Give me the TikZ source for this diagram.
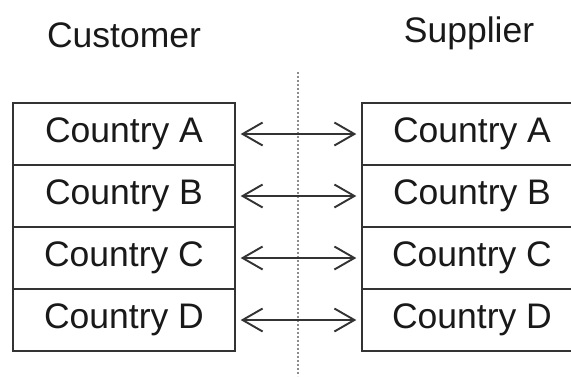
\documentclass[tikz,border=0pt]{standalone}
\usepackage{fontspec}
\setmainfont{Liberation Sans}
\usetikzlibrary{arrows.meta}
\begin{document}
\begin{tikzpicture}[x=1pt,y=-1pt,
  every node/.style={font=\fontsize{35.5}{40}\selectfont, text=black!90},
  cell/.style={draw=black!80, line width=1.4pt, rectangle, minimum height=62pt, inner sep=0pt},
  leftcell/.style={cell, minimum width=222pt},
  rightcell/.style={cell, minimum width=220pt},
  link/.style={draw=black!80, line width=1.9pt,
    {Straight Barb[length=20pt,width=23pt,line width=1.9pt]}-{Straight Barb[length=20pt,width=23pt,line width=1.9pt]},
    shorten <=5pt, shorten >=5pt},
  divider/.style={draw=black!45, line width=2pt, dotted}
]
\useasboundingbox (0,0) rectangle (571,376);
\clip (0,0) rectangle (571,376);
\fill[white] (0,0) rectangle (571,376);

% column headings
\node[anchor=base] (cust) at (124,47) {Customer};
\node[anchor=base] (supp) at (469,42) {Supplier};

% dividing line between the two parties
\coordinate (dtop) at (298,72);
\coordinate (dbot) at (298,376);
\draw[divider] (dtop) -- (dbot);

% customer side
\node[leftcell] (cA) at (124,134) {Country A};
\node[leftcell] (cB) at (124,196) {Country B};
\node[leftcell] (cC) at (124,258) {Country C};
\node[leftcell] (cD) at (124,320) {Country D};

% supplier side
\node[rightcell] (sA) at (472,134) {Country A};
\node[rightcell] (sB) at (472,196) {Country B};
\node[rightcell] (sC) at (472,258) {Country C};
\node[rightcell] (sD) at (472,320) {Country D};

% links between matching countries
\draw[link] (cA.east) -- (sA.west);
\draw[link] (cB.east) -- (sB.west);
\draw[link] (cC.east) -- (sC.west);
\draw[link] (cD.east) -- (sD.west);
\end{tikzpicture}
\end{document}
